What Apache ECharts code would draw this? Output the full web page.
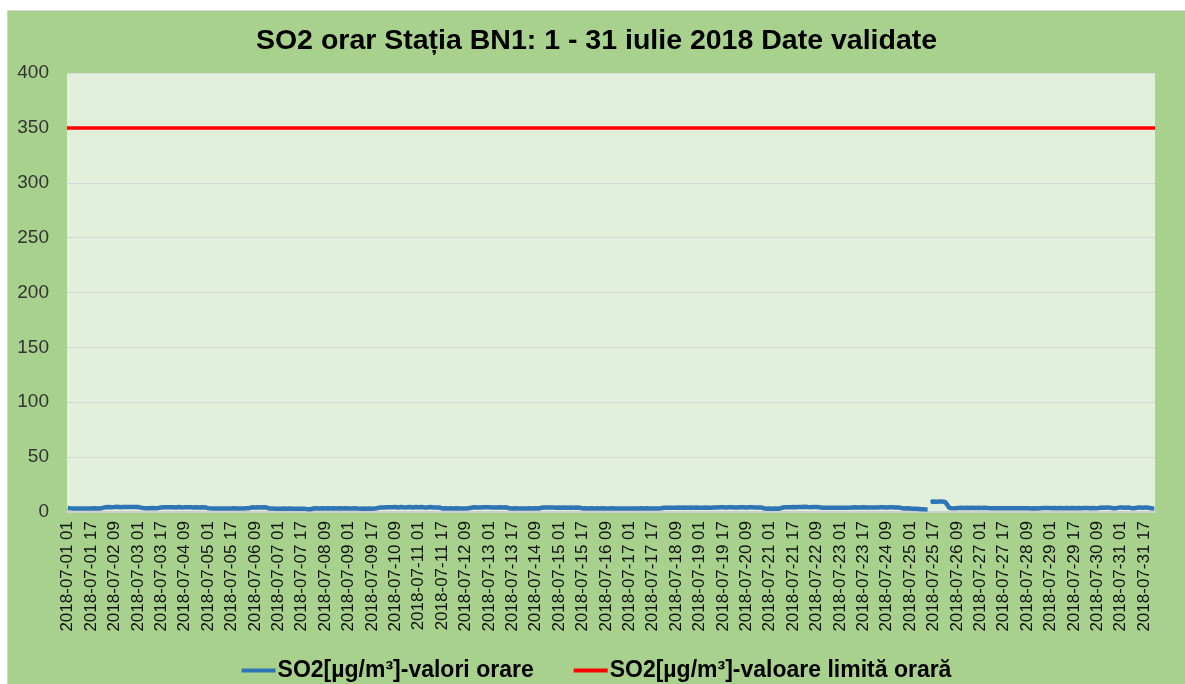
<!DOCTYPE html>
<html>
<head>
<meta charset="utf-8">
<script src="https://cdn.jsdelivr.net/npm/echarts@6/dist/echarts.min.js"></script>
<style>
  html, body { margin: 0; padding: 0; background: #ffffff; }
  #chart {
    position: absolute; left: 7px; top: 10px;
    width: 1177px; height: 673px;
    border-left: 1px solid #d4d4d4; border-top: 1px solid #d4d4d4;
    background: #a9d18e;
  }
</style>
</head>
<body>
<div id="chart"></div>
<script>
// SO2 orar - statia BN1, iulie 2018
const titleText = 'SO2 orar Stația BN1: 1 - 31 iulie 2018 Date validate';
const seriesNames = ['SO2[µg/m³]-valori orare', 'SO2[µg/m³]-valoare limită orară'];
const limitValue = 350;
const yTicks = [0, 50, 100, 150, 200, 250, 300, 350, 400];

// valori orare, cate un rand pe zi (ora 01 ... ora 00 a zilei urmatoare)
const so2ByDay = [
  [3.6,3.4,3.3,3.2,3.1,3.2,3.3,3.2,3.1,3.2,3.3,3.4,3.2,3.1,3.3,3.2,3.1,3.2,3.4,3.3,3.2,3.3,3.2,3.4],
  [3.8,4.3,4.4,4.5,4.6,4.5,4.4,4.6,4.5,4.6,4.7,4.5,4.4,4.5,4.6,4.5,4.6,4.4,4.5,4.6,4.5,4.7,4.6,4.5],
  [4.5,4.4,4.0,3.6,3.5,3.4,3.5,3.6,3.4,3.5,3.6,3.5,3.4,3.5,3.6,3.8,4.2,4.3,4.4,4.2,4.3,4.4,4.3,4.2],
  [4.3,4.4,4.2,4.3,4.5,4.3,4.2,4.4,4.3,4.2,4.3,4.5,4.4,4.3,4.2,4.3,4.4,4.3,4.2,4.4,4.3,4.1,4.2,3.8],
  [3.5,3.4,3.3,3.5,3.2,3.1,3.3,3.4,3.2,3.0,3.1,3.3,3.2,3.4,3.3,3.1,3.2,3.3,3.4,3.2,3.1,3.3,3.2,3.3],
  [3.3,3.2,3.4,3.3,3.5,4.0,4.3,4.4,4.2,4.3,4.4,4.3,4.2,4.4,4.3,4.2,4.1,3.6,3.1,3.0,3.1,3.0,2.9,3.0],
  [3.0,3.1,2.9,3.0,3.1,3.0,2.9,3.0,3.1,3.0,2.9,3.1,3.0,3.1,3.0,2.9,3.0,3.1,3.0,2.9,2.6,2.4,2.5,2.6],
  [3.2,3.3,3.4,3.3,3.2,3.1,3.4,3.3,3.2,3.3,3.5,3.3,3.2,3.4,3.4,3.3,3.1,3.3,3.4,3.2,3.2,3.3,3.4,3.3],
  [3.3,3.4,3.2,3.3,3.4,3.3,3.1,3.0,2.9,3.0,3.1,3.0,2.9,3.0,3.1,3.0,2.9,3.0,3.1,3.0,3.6,4.0,4.2,4.1],
  [4.2,4.5,4.3,4.1,4.4,4.6,4.3,4.2,4.5,4.4,4.1,4.3,4.6,4.5,4.2,4.4,4.3,4.5,4.6,4.2,4.1,4.4,4.5,4.3],
  [4.4,4.2,4.5,4.3,4.1,4.4,4.2,4.3,4.5,4.2,4.1,4.3,4.2,4.4,4.1,3.6,3.3,3.2,3.4,3.3,3.2,3.3,3.4,3.3],
  [3.2,3.3,3.4,3.2,3.3,3.1,3.3,3.4,3.2,3.3,3.4,3.3,3.8,4.2,4.3,4.1,4.2,4.3,4.2,4.1,4.3,4.2,4.4,4.2],
  [4.3,4.1,4.2,4.3,4.2,4.4,4.2,4.1,4.3,4.2,4.1,4.2,4.3,3.8,3.4,3.3,3.2,3.3,3.4,3.2,3.3,3.4,3.3,3.2],
  [3.3,3.4,3.2,3.3,3.4,3.3,3.2,3.3,3.4,3.3,3.2,3.6,3.9,4.0,4.1,3.9,4.0,4.1,4.0,3.9,4.0,4.1,3.9,4.0],
  [4.1,4.0,3.9,4.0,4.1,4.0,3.9,4.0,4.1,4.0,3.9,4.0,4.1,4.0,3.9,3.6,3.3,3.2,3.4,3.3,3.2,3.3,3.4,3.3],
  [3.2,3.3,3.4,3.3,3.2,3.3,3.4,3.3,3.2,3.3,3.1,3.3,3.4,3.2,3.3,3.4,3.3,3.2,3.3,3.4,3.3,3.2,3.3,3.4],
  [3.3,3.2,3.3,3.4,3.3,3.2,3.1,3.3,3.4,3.3,3.2,3.3,3.4,3.2,3.3,3.4,3.3,3.2,3.3,3.4,3.3,3.2,3.4,3.6],
  [3.9,4.0,3.9,3.8,3.9,4.0,3.9,3.8,3.9,4.0,4.1,3.9,3.8,3.9,4.0,3.9,3.8,3.9,4.0,3.9,3.8,3.9,4.0,3.9],
  [3.9,4.0,3.8,3.9,4.0,3.9,3.8,3.9,3.9,4.0,4.2,4.3,4.2,4.1,4.3,4.2,4.4,4.3,4.2,4.1,4.3,4.2,4.3,4.2],
  [4.2,4.3,4.1,4.2,4.3,4.2,4.4,4.3,4.2,4.1,4.3,4.2,4.3,4.2,4.1,4.3,4.2,4.3,4.2,4.1,3.4,3.0,2.9,3.0],
  [3.1,3.0,2.9,3.0,3.1,3.0,2.9,3.0,3.6,4.2,4.3,4.4,4.3,4.5,4.4,4.3,4.5,4.6,4.4,4.5,4.6,4.7,4.6,4.8],
  [4.7,4.6,4.5,4.6,4.4,4.5,4.6,4.4,4.5,4.6,4.3,4.0,3.9,3.8,3.9,4.0,3.9,3.8,3.9,4.0,3.9,3.8,3.9,4.0],
  [3.9,3.8,3.9,4.0,3.9,3.8,3.9,3.9,4.0,4.2,4.3,4.2,4.1,4.3,4.2,4.4,4.3,4.2,4.1,4.3,4.2,4.3,4.2,4.1],
  [4.2,4.3,4.2,4.1,4.3,4.2,4.4,4.3,4.2,4.1,4.3,4.2,4.3,4.2,4.1,4.3,4.2,4.0,3.6,3.3,3.2,3.3,3.4,3.3],
  [3.2,3.1,3.0,2.9,3.0,2.9,2.8,2.7,2.6,2.5,2.4,2.3,2.3,null,9.0,9.5,9.6,9.5,9.4,9.6,9.5,9.4,9.5,9.3],
  [9.2,8.0,5.5,3.6,3.4,3.3,3.4,3.5,3.6,3.7,3.8,3.9,3.8,3.7,3.8,3.9,3.8,3.7,3.8,3.9,3.8,3.7,3.8,3.9],
  [3.8,3.7,3.8,3.9,3.8,3.6,3.5,3.4,3.3,3.4,3.5,3.4,3.3,3.4,3.5,3.4,3.3,3.4,3.5,3.4,3.3,3.4,3.5,3.4],
  [3.3,3.4,3.5,3.4,3.3,3.4,3.5,3.4,3.3,3.4,3.3,3.2,3.3,3.4,3.3,3.2,3.3,3.4,3.5,3.6,3.7,3.6,3.5,3.6],
  [3.6,3.5,3.6,3.7,3.6,3.5,3.6,3.7,3.6,3.5,3.6,3.7,3.6,3.5,3.6,3.7,3.6,3.5,3.6,3.7,3.6,3.5,3.6,3.7],
  [3.6,3.7,3.6,3.5,3.6,3.7,3.6,3.5,3.4,3.6,3.9,4.1,4.0,3.9,4.1,4.2,4.0,3.8,3.6,3.4,3.3,3.5,3.8,4.0],
  [4.1,4.2,4.0,3.9,4.1,4.2,4.0,3.7,3.4,3.3,3.5,3.8,4.1,4.2,4.0,3.9,4.1,4.2,4.0,3.8,3.6,3.4,3.5,3.3]
];

const so2Values = [].concat(...so2ByDay);

// etichete orare: 2018-07-01 01 ... 2018-08-01 00
function pad(n) { return n < 10 ? '0' + n : '' + n; }
const hours = [];
for (let i = 0; i < so2Values.length; i++) {
  const d = new Date(Date.UTC(2018, 6, 1, 1 + i));
  hours.push(d.getUTCFullYear() + '-' + pad(d.getUTCMonth() + 1) + '-' + pad(d.getUTCDate()) + ' ' + pad(d.getUTCHours()));
}

const chart = echarts.init(document.getElementById('chart'));
const font = 'Arial, "Liberation Sans", sans-serif';

chart.setOption({
  animation: false,
  backgroundColor: '#a9d18e',
  title: {
    text: titleText,
    left: 'center',
    top: 11,
    textStyle: { fontFamily: font, fontSize: 28.5, fontWeight: 'bold', color: '#000' }
  },
  legend: {
    top: 643,
    left: 'center',
    itemGap: 40,
    itemWidth: 34,
    itemHeight: 4,
    icon: 'rect',
    textStyle: { fontFamily: font, fontSize: 23, fontWeight: 'bold', color: '#000', padding: [0, 0, 0, -3] },
    data: seriesNames
  },
  grid: {
    left: 59,
    right: 30,
    top: 62,
    bottom: 172,
    show: true,
    backgroundColor: '#e2efda',
    borderWidth: 0
  },
  xAxis: {
    type: 'category',
    data: hours,
    boundaryGap: true,
    axisLine: { show: true, lineStyle: { color: '#cfcfcf', width: 2 } },
    axisTick: { show: false },
    axisLabel: {
      interval: 15,
      rotate: 90,
      margin: 9,
      fontFamily: font,
      fontSize: 17,
      color: '#111'
    },
    splitLine: { show: false }
  },
  yAxis: {
    type: 'value',
    min: yTicks[0],
    max: yTicks[yTicks.length - 1],
    interval: 50,
    axisLine: { show: false },
    axisTick: { show: false },
    axisLabel: { margin: 18, fontFamily: font, fontSize: 19, color: '#333' },
    splitLine: { lineStyle: { color: '#d6d6d6', width: 1 } }
  },
  series: [
    {
      name: seriesNames[0],
      type: 'line',
      data: so2Values,
      showSymbol: false,
      symbol: 'none',
      connectNulls: false,
      color: '#2e75b6',
      lineStyle: { color: '#2e75b6', width: 4.5 },
      z: 3
    },
    {
      name: seriesNames[1],
      type: 'line',
      data: [],
      symbol: 'none',
      color: '#ff0000',
      lineStyle: { color: '#ff0000', width: 3.5 },
      markLine: {
        silent: true,
        symbol: 'none',
        label: { show: false },
        lineStyle: { color: '#ff0000', width: 3.5, type: 'solid' },
        data: [{ yAxis: limitValue }]
      },
      z: 2
    }
  ]
});
</script>
</body>
</html>
